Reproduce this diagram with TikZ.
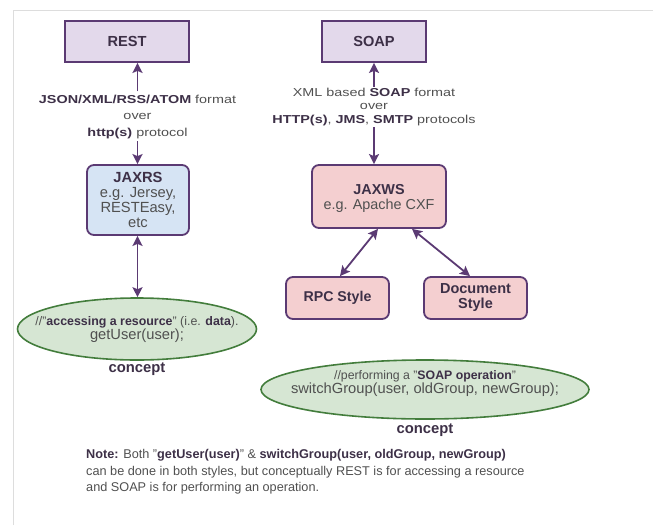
\documentclass[tikz,border=0pt]{standalone}
\usepackage{fontspec}
\setmainfont{Liberation Sans}
\usetikzlibrary{arrows.meta,shapes.geometric}
\definecolor{frame}{HTML}{DDDDDD}
\definecolor{pstroke}{HTML}{5B3A73}
\definecolor{pfill}{HTML}{E3D9EB}
\definecolor{bfill}{HTML}{D6E4F4}
\definecolor{rfill}{HTML}{F4CFD0}
\definecolor{gfill}{HTML}{D6E6D3}
\definecolor{gstroke}{HTML}{437D3C}
\definecolor{txt}{HTML}{505050}
\definecolor{btxt}{HTML}{3D3047}
\newcommand{\bt}[1]{\textbf{\color{btxt}#1}}
% flattened multi-line label
\newcommand{\flatlines}[3]{\scalebox{1}[0.8]{\fontsize{14.4}{#1}\selectfont\begin{tabular}{@{}c@{}}#2\\over\\#3\end{tabular}}}
\begin{document}
\begin{tikzpicture}[x=1pt,y=-1pt,
  every node/.style={text=txt},
  sqbox/.style={draw=pstroke, line width=1.8pt, fill=pfill, minimum width=124pt, minimum height=41pt, font=\bfseries\fontsize{14.6}{16}\selectfont, text=btxt},
  rbox/.style={draw=pstroke, line width=1.8pt, rounded corners=7pt, align=center, inner sep=2pt},
  oval/.style={draw=gstroke, line width=1.6pt, fill=gfill, ellipse, inner sep=0pt},
  lbl/.style={inner sep=0pt},
  cpt/.style={font=\bfseries\fontsize{14.8}{16}\selectfont, text=btxt},
  tip/.style={-{Stealth[length=10pt,width=10pt,inset=2pt]}, draw=pstroke, line width=1.8pt},
  dbl/.style={{Stealth[length=10pt,width=10pt,inset=2pt]}-{Stealth[length=10pt,width=10pt,inset=2pt]}, draw=pstroke, line width=1.8pt}
]
\useasboundingbox (0,0) rectangle (656,525);
% page frame
\draw[frame, line width=1pt] (13,525) -- (13,10) -- (653,10);

% REST side
\node[sqbox] (rest) at (127,41.5) {REST};
\node[lbl] (lbl1) at (137.5,116.4)
  {\flatlines{20.6}{\bt{JSON/XML/RSS/ATOM} format}{\bt{http(s)} protocol}};
\node[rbox, fill=bfill, minimum width=102pt, minimum height=70pt, font=\fontsize{14.7}{15}\selectfont] (jaxrs) at (138,200)
  {\bt{JAXRS}\\e.g. Jersey,\\RESTEasy,\\etc};
\node[oval, minimum width=239pt, minimum height=62pt] (e1) at (137,329) {};
\node[align=center, inner sep=0pt] (e1t) at (137,329.5)
  {{\fontsize{12.4}{15}\selectfont//"\bt{accessing a resource}" (i.e. \bt{data}).}\\
   {\fontsize{14.7}{15}\selectfont getUser(user);}};
\node[cpt] (c1) at (137,369) {concept};

\draw[tip] (lbl1.north) -- (lbl1.north |- rest.south);
\draw[tip] (lbl1.south) -- (lbl1.south |- jaxrs.north);
\draw[dbl] (jaxrs.south -| lbl1) -- (lbl1 |- e1.north);

% SOAP side
\node[sqbox, minimum width=104pt] (soap) at (374,41.5) {SOAP};
\node[lbl] (lbl2) at (374,107)
  {\flatlines{16.9}{XML based \bt{SOAP} format}{\bt{HTTP(s)}, \bt{JMS}, \bt{SMTP} protocols}};
\node[rbox, fill=rfill, minimum width=134pt, minimum height=63pt, font=\fontsize{14.4}{15}\selectfont, text depth=0pt] (jaxws) at (379,196.5)
  {\bt{JAXWS}\\e.g. Apache CXF};
\node[rbox, fill=rfill, minimum width=103pt, minimum height=42pt, font=\fontsize{14.2}{15}\selectfont] (rpc) at (337.5,298) {\bt{RPC Style}};
\node[rbox, fill=rfill, minimum width=103pt, minimum height=42pt, font=\fontsize{14.5}{15}\selectfont] (doc) at (475.5,298) {\bt{Document}\\\bt{Style}};
\node[oval, minimum width=328pt, minimum height=59pt] (e2) at (425,389.5) {};
\node[align=center, inner sep=0pt] (e2t) at (425,383.5)
  {{\fontsize{12.3}{16}\selectfont//performing a "\bt{SOAP operation}"}\\
   {\fontsize{14.7}{16}\selectfont switchGroup(user, oldGroup, newGroup);}};
\node[cpt] (c2) at (425,430) {concept};

\draw[tip] (lbl2.north) -- (lbl2.north |- soap.south);
\draw[tip] (lbl2.south) -- (lbl2.south |- jaxws.north);
\draw[dbl] ([xshift=-1pt]jaxws.south) -- ([xshift=2.5pt]rpc.north);
\draw[dbl] ([xshift=33pt]jaxws.south) -- ([xshift=-5.5pt]doc.north);

% note
\node[anchor=north west, align=left, font=\fontsize{12.7}{16.5}\selectfont, inner sep=0pt] (note) at (86,449.5)
  {\bt{Note:} Both "\bt{getUser(user)}" \& \bt{switchGroup(user, oldGroup, newGroup)}\\
   can be done in both styles, but conceptually REST is for accessing a resource\\
   and SOAP is for performing an operation.};
\end{tikzpicture}
\end{document}
